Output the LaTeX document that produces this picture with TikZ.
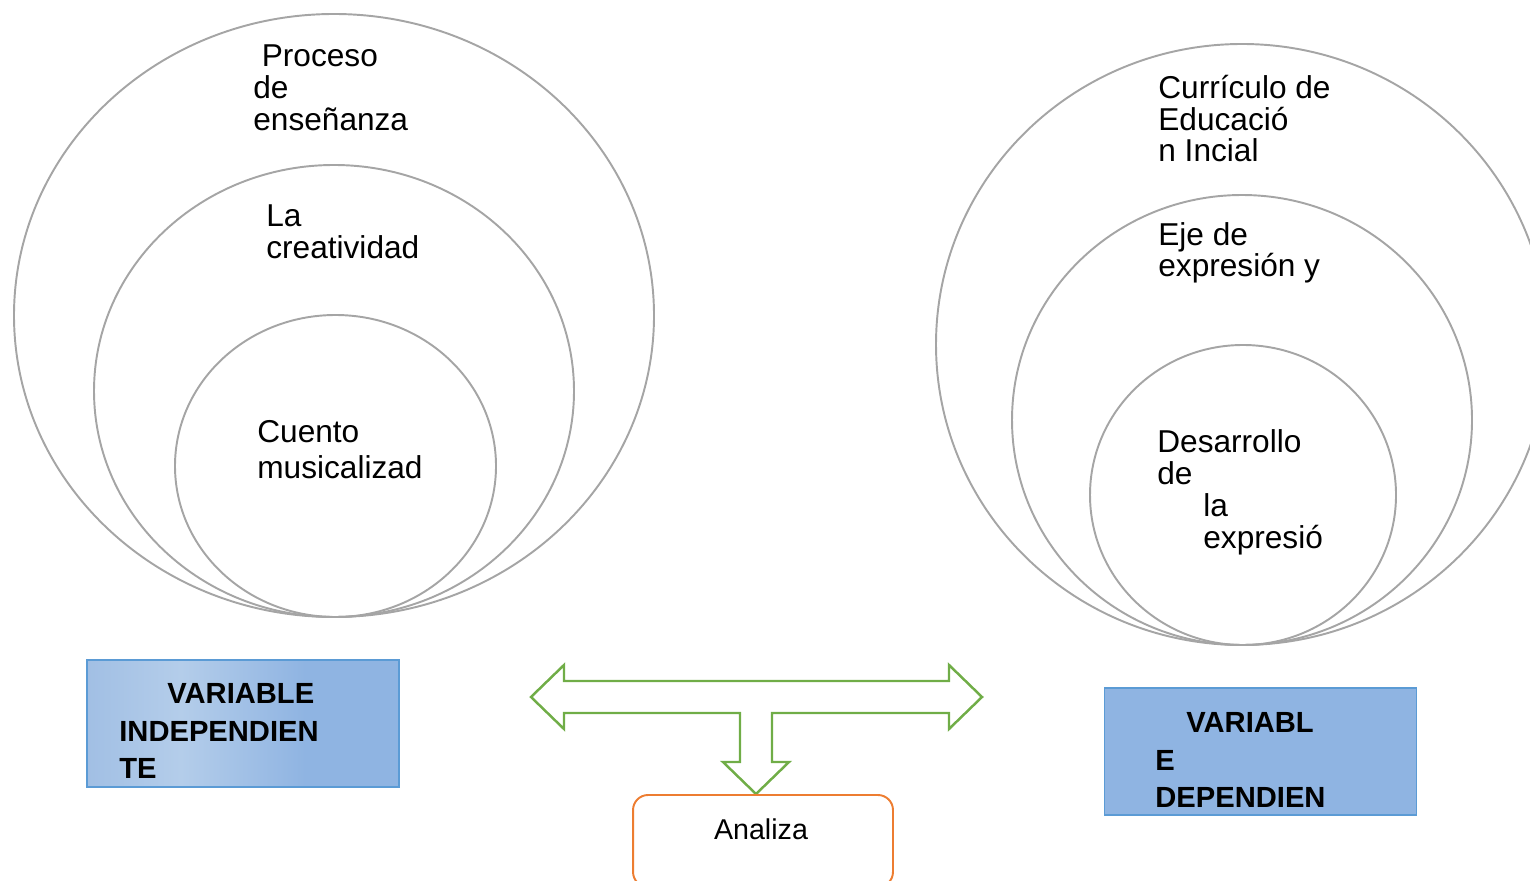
\documentclass[tikz,border=0pt]{standalone}
\usepackage{fontspec}
\setmainfont{Liberation Sans}
\usepackage{tikz}

\definecolor{ringgray}{HTML}{A5A5A5}
\definecolor{arrowgreen}{HTML}{70AD47}
\definecolor{boxblue}{HTML}{8FB4E2}
\definecolor{boxmid}{HTML}{A1BFE4}
\definecolor{boxlight}{HTML}{B4CDEA}
\definecolor{boxline}{HTML}{5B9BD5}
\definecolor{analizaorange}{HTML}{ED7D31}

\pgfdeclarehorizontalshading{indepshade}{100bp}{color(0bp)=(boxmid); color(25bp)=(boxmid);
  color(40bp)=(boxlight); color(60bp)=(boxblue); color(100bp)=(boxblue)}

\begin{document}
\begin{tikzpicture}[x=0.02cm, y=-0.02cm,
    ring/.style={draw=ringgray, line width=1.1pt},
    ringtext/.style={anchor=base west, inner sep=0pt, align=left,
      font=\fontsize{18}{18.1}\selectfont},
    varbox/.style={draw=boxline, line width=0.8pt, minimum width=6.24cm, minimum height=2.54cm},
    vartext/.style={anchor=base west, inner sep=0pt, align=left,
      font=\fontsize{16.6}{21.3}\selectfont\bfseries}]
      \useasboundingbox (0,0) rectangle (1530,881);
      % left rings (text nodes sit on the baseline of their last line)
      \draw[ring] (334,315.5) ellipse [x radius=320, y radius=301.5];
      \draw[ring] (334,391) ellipse [x radius=240, y radius=226];
      \draw[ring] (335.5,466) ellipse [x radius=160.5, y radius=151];
      \node[ringtext] (t1) at (253, 130.5) {\hspace*{0.17cm}Proceso\\de\\enseñanza};
      \node[ringtext] (t2) at (266, 258.5) {La\\creatividad};
      \node[ringtext, font=\fontsize{18}{20.4}\selectfont] (t3) at (257, 478) {Cuento\\musicalizad};
      % right rings
      \draw[ring] (1242,344.5) ellipse [x radius=306, y radius=300.5];
      \draw[ring] (1242,420) ellipse [x radius=230, y radius=225];
      \draw[ring] (1243,495) ellipse [x radius=153, y radius=150];
      \node[ringtext] (t4) at (1158, 162) {Currículo de\\Educació\\n Incial};
      \node[ringtext] (t5) at (1158, 277) {Eje de\\expresión y};
      \node[ringtext] (t6) at (1157, 548) {Desarrollo\\de\\\hspace*{0.92cm}la\\\hspace*{0.92cm}expresió};
      % variables
      \node[varbox, shading=indepshade] (vi) at (243, 723.5) {};
      \node[vartext] (vitext) at (119, 778.5) {\hspace*{0.96cm}VARIABLE\\INDEPENDIEN\\TE};
      \node[varbox, fill=boxblue] (vd) at (1260.5, 751.5) {};
      \node[vartext] (vdtext) at (1155, 807.5) {\hspace*{0.62cm}VARIABL\\E\\DEPENDIEN};
      % block arrow
      \draw[arrowgreen, line width=1.4pt, line join=miter]
        (531,697) -- (564,665) -- (564,681) -- (949,681) -- (949,665) -- (982,697)
        -- (949,729) -- (949,713) -- (772,713) -- (772,762) -- (789,762) -- (756,794)
        -- (723,762) -- (740,762) -- (740,713) -- (564,713) -- (564,729) -- cycle;
      \node[draw=analizaorange, line width=1.1pt, rounded corners=0.3cm,
        minimum width=5.2cm, minimum height=1.84cm] (an) at (763, 841) {};
      \node[inner sep=0pt, font=\fontsize{16.3}{19}\selectfont] (antext) at (761, 829) {Analiza};
    \end{tikzpicture}
\end{document}
